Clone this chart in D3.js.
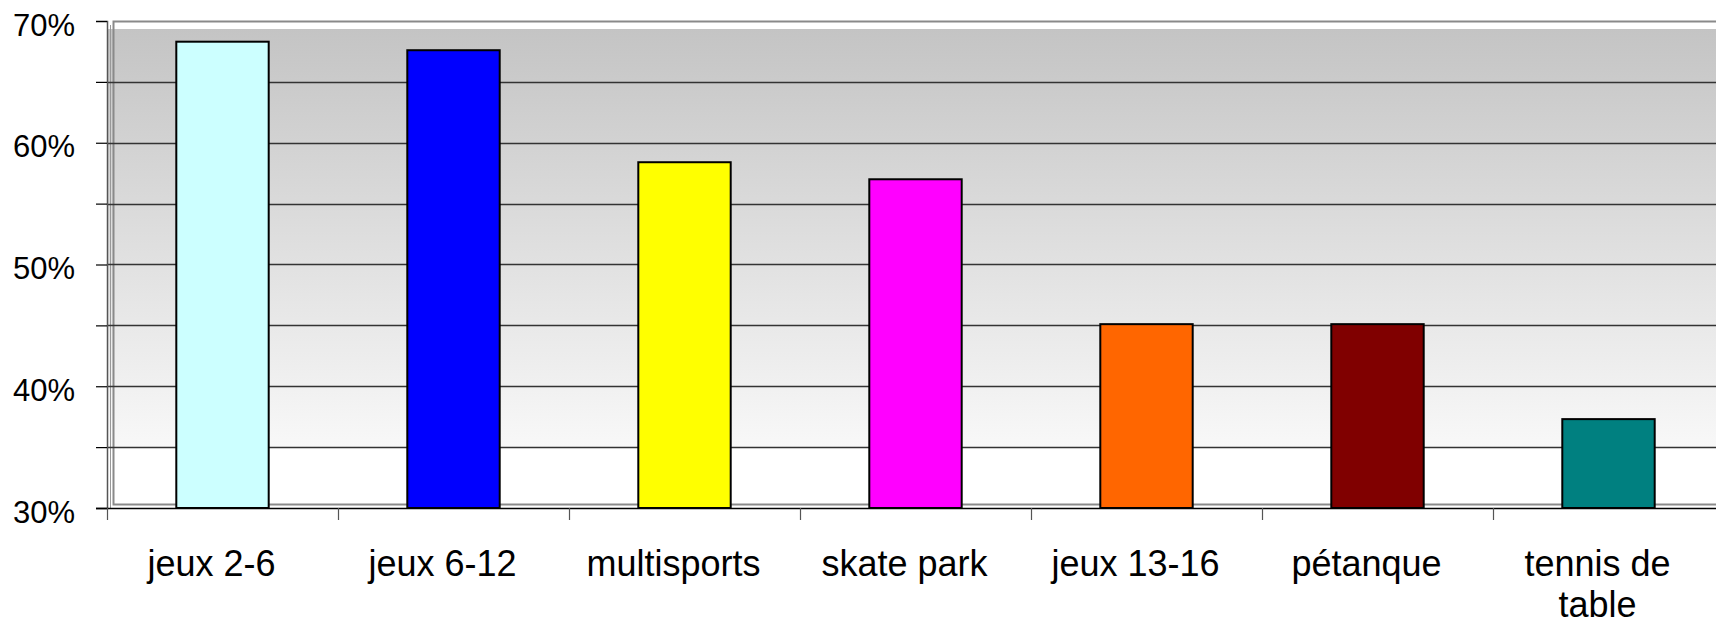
<!DOCTYPE html>
<html>
<head>
<meta charset="utf-8">
<script src="https://cdn.jsdelivr.net/npm/d3@7"></script>
<style>
  html, body { margin: 0; padding: 0; background: #fff; }
  svg { display: block; font-family: "Liberation Sans", Arial, sans-serif; }
</style>
</head>
<body>
<div id="chart"></div>
<script>
// categories and values (share of answers)
const categories = ['jeux 2-6', 'jeux 6-12', 'multisports', 'skate park', 'jeux 13-16', 'pétanque', 'tennis de table'];
const values = [0.683, 0.676, 0.584, 0.570, 0.451, 0.451, 0.373];
const barColors = ['#CCFFFF', '#0000FF', '#FFFF00', '#FF00FF', '#FF6600', '#800000', '#008080'];
const yTicks = [0.30, 0.40, 0.50, 0.60, 0.70];
const yGrid = [0.35, 0.40, 0.45, 0.50, 0.55, 0.60, 0.65];

const W = 1716, H = 625;
const plotLeft = 107, plotTop = 21, plotBottom = 508;
const step = 231;

const svg = d3.select('#chart').append('svg')
  .attr('width', W)
  .attr('height', H);

const y = d3.scaleLinear().domain([0.30, 0.70]).range([plotBottom, plotTop]);
const x = d3.scaleBand()
  .domain(categories)
  .range([plotLeft, plotLeft + categories.length * step])
  .paddingInner(0.6)
  .paddingOuter(0.3);

// background gradient of the wall
const defs = svg.append('defs');
const grad = defs.append('linearGradient')
  .attr('id', 'wall')
  .attr('x1', 0).attr('y1', 0).attr('x2', 0).attr('y2', 1);
grad.append('stop').attr('offset', '0%').attr('stop-color', '#c4c4c4');
grad.append('stop').attr('offset', '88%').attr('stop-color', '#f8f8f8');
grad.append('stop').attr('offset', '88%').attr('stop-color', '#ffffff');
grad.append('stop').attr('offset', '100%').attr('stop-color', '#ffffff');

svg.append('rect')
  .attr('x', plotLeft)
  .attr('y', plotTop + 8)
  .attr('width', W - plotLeft)
  .attr('height', plotBottom - 4 - (plotTop + 8))
  .attr('fill', 'url(#wall)');

// wall frame (gray double line)
svg.append('rect')
  .attr('x', plotLeft + 6.5)
  .attr('y', plotTop + 0.5)
  .attr('width', W)
  .attr('height', plotBottom - 4 - plotTop)
  .attr('fill', 'none')
  .attr('stroke', '#8a8a8a')
  .attr('stroke-width', 2);
svg.append('line')
  .attr('x1', plotLeft + 3.5).attr('x2', plotLeft + 3.5)
  .attr('y1', plotTop + 4).attr('y2', plotBottom)
  .attr('stroke', '#999')
  .attr('stroke-width', 1);

// gridlines
svg.append('g')
  .selectAll('line')
  .data(yGrid)
  .enter().append('line')
  .attr('x1', plotLeft)
  .attr('x2', W)
  .attr('y1', d => Math.round(y(d)) + 0.5)
  .attr('y2', d => Math.round(y(d)) + 0.5)
  .attr('stroke', '#333')
  .attr('stroke-width', 1.5);

// bars
svg.append('g')
  .selectAll('rect')
  .data(values)
  .enter().append('rect')
  .attr('x', (d, i) => x(categories[i]))
  .attr('y', d => y(d))
  .attr('width', x.bandwidth())
  .attr('height', d => plotBottom - y(d))
  .attr('fill', (d, i) => barColors[i])
  .attr('stroke', '#000')
  .attr('stroke-width', 2);

// y axis
const yAxis = svg.append('g')
  .attr('transform', `translate(${plotLeft},0)`)
  .call(d3.axisLeft(y)
    .tickValues(d3.range(0.30, 0.7001, 0.05))
    .tickSize(11)
    .tickFormat(() => ''));
yAxis.select('.domain').attr('stroke', '#555').attr('stroke-width', 1.5);
yAxis.selectAll('.tick line').attr('stroke', '#000').attr('stroke-width', 1.2);

svg.append('g')
  .selectAll('text')
  .data(yTicks)
  .enter().append('text')
  .attr('x', 75)
  .attr('y', d => y(d) + 4)
  .attr('dominant-baseline', 'central')
  .attr('text-anchor', 'end')
  .attr('font-size', 31)
  .attr('fill', '#000')
  .text(d => d3.format('.0%')(d));

// x axis
svg.append('line')
  .attr('x1', plotLeft - 11)
  .attr('x2', W)
  .attr('y1', plotBottom + 0.5)
  .attr('y2', plotBottom + 0.5)
  .attr('stroke', '#000')
  .attr('stroke-width', 1.5);

svg.append('g')
  .selectAll('line')
  .data(d3.range(categories.length))
  .enter().append('line')
  .attr('x1', i => plotLeft + i * step + 0.5)
  .attr('x2', i => plotLeft + i * step + 0.5)
  .attr('y1', plotBottom)
  .attr('y2', plotBottom + 12)
  .attr('stroke', '#555')
  .attr('stroke-width', 1.2);

// category labels (wrapped)
const wrapped = {'tennis de table': ['tennis de', 'table']};
const labels = svg.append('g')
  .selectAll('text')
  .data(categories)
  .enter().append('text')
  .attr('text-anchor', 'middle')
  .attr('font-size', 36)
  .attr('fill', '#000')
  .attr('y', 576);
labels.each(function(d) {
  const lines = wrapped[d] || [d];
  const t = d3.select(this);
  lines.forEach((l, k) => {
    t.append('tspan')
      .attr('x', x(d) + x.bandwidth() / 2 - 11)
      .attr('dy', k === 0 ? 0 : 41)
      .text(l);
  });
});
</script>
</body>
</html>
